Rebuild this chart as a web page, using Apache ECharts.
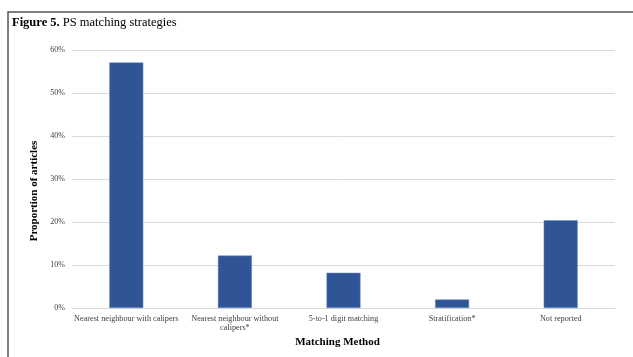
<!DOCTYPE html>
<html>
<head>
<meta charset="utf-8">
<script src="https://cdn.jsdelivr.net/npm/echarts@6/dist/echarts.min.js"></script>
<style>
  html, body { margin: 0; padding: 0; background: #fff; }
  #chart { width: 633px; height: 357px; }
</style>
</head>
<body>
<div id="chart"></div>
<script>
// Matching strategies and the share of articles using each
const categories = [
  'Nearest neighbour with calipers',
  'Nearest neighbour without\ncalipers*',
  '5-to-1 digit matching',
  'Stratification*',
  'Not reported'
];
const proportions = [57.1, 12.2, 8.2, 2.0, 20.4];
const yTicks = [0, 10, 20, 30, 40, 50, 60];

const serif = '"Liberation Serif", "Times New Roman", serif';

const chart = echarts.init(document.getElementById('chart'), null, { renderer: 'canvas' });
chart.setOption({
  animation: false,
  backgroundColor: '#ffffff',
  graphic: [
    {
      type: 'rect',
      shape: { x: 8, y: 12, width: 700, height: 400 },
      style: { fill: 'none', stroke: '#555555', lineWidth: 1.5 },
      silent: true
    },
    {
      type: 'text',
      left: 12,
      top: 16,
      style: {
        text: '{b|Figure 5.} PS matching strategies',
        rich: {
          b: { fontFamily: serif, fontWeight: 'bold', fontSize: 12.5, fill: '#000' }
        },
        fontFamily: serif,
        fontSize: 12.5,
        fill: '#000'
      }
    }
  ],
  grid: { left: 72, right: 18, top: 50, bottom: 49 },
  xAxis: {
    type: 'category',
    data: categories,
    name: 'Matching Method',
    nameLocation: 'middle',
    nameGap: 20,
    nameTextStyle: {
      fontFamily: serif, fontWeight: 'bold', fontSize: 11, color: '#000',
      padding: [0, 12, 0, 0]
    },
    axisLine: { lineStyle: { color: '#d9d9d9', width: 1 } },
    axisTick: { show: false },
    axisLabel: {
      interval: 0,
      fontFamily: serif,
      fontSize: 8.2,
      color: '#404040',
      lineHeight: 9,
      margin: 6
    }
  },
  yAxis: {
    type: 'value',
    min: yTicks[0],
    max: yTicks[yTicks.length - 1],
    interval: 10,
    name: 'Proportion of articles',
    nameLocation: 'middle',
    nameGap: 26,
    nameTextStyle: {
      fontFamily: serif, fontWeight: 'bold', fontSize: 11, color: '#000',
      padding: [0, 24, 0, 0]
    },
    axisLine: { show: false },
    axisTick: { show: false },
    axisLabel: {
      formatter: v => v + '%',
      fontFamily: serif,
      fontSize: 8,
      color: '#404040',
      margin: 7
    },
    splitLine: { lineStyle: { color: '#d9d9d9', width: 1 } }
  },
  series: [{
    type: 'bar',
    data: proportions,
    barWidth: 34,
    itemStyle: { color: '#2f5597', borderColor: '#6d8cc0', borderWidth: 0.5 }
  }]
});
</script>
</body>
</html>
